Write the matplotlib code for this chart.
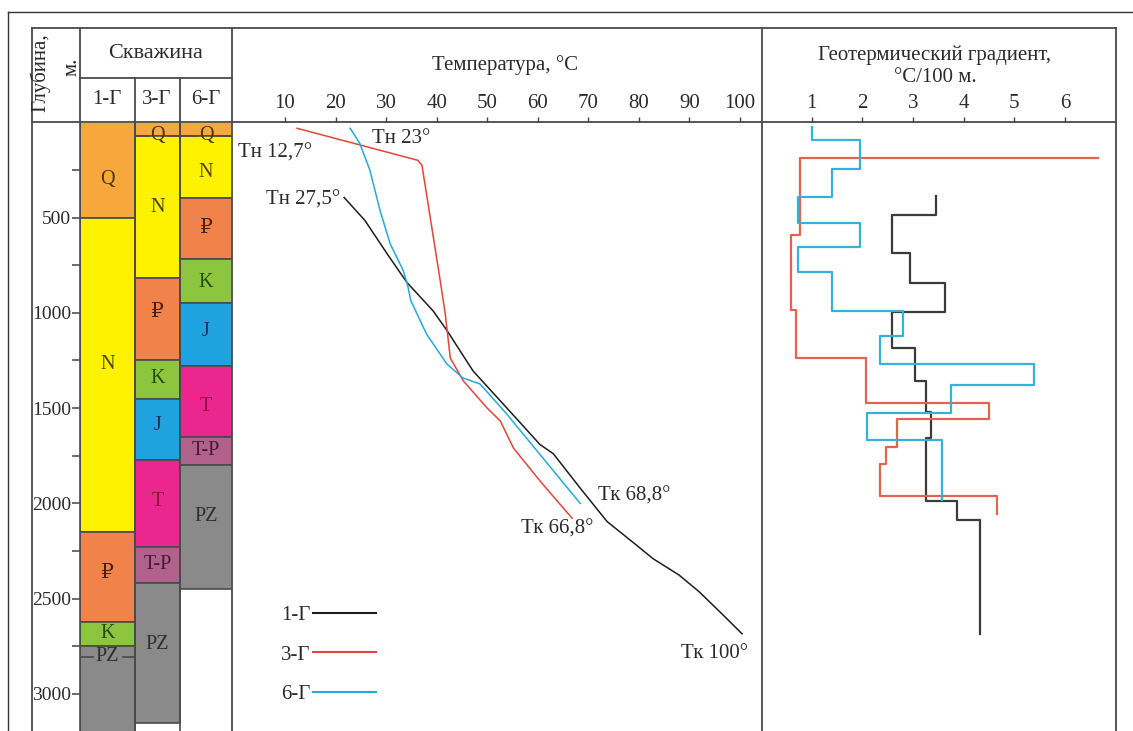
import numpy as np
import matplotlib
matplotlib.use('Agg')
import matplotlib.pyplot as plt

plt.rcParams['font.family'] = ['Liberation Serif', 'DejaVu Serif']

# temperature profiles: depth (m) / temperature (C)
depth_1g = [395, 515, 690, 840, 990, 1095, 1305, 1500, 1690, 1740, 1920, 2095, 2210, 2290, 2375, 2463, 2584, 2684]
temp_1g = [21.7, 25.8, 30.2, 34.1, 39.3, 42.1, 47.2, 53.9, 60.4, 63.1, 68.4, 73.7, 79.1, 82.8, 87.9, 91.9, 96.6, 100.4]
depth_3g = [32, 200, 226, 830, 1005, 1237, 1358, 1500, 1568, 1710, 1884, 2078]
temp_3g = [12.4, 36.3, 37.1, 40.7, 41.7, 42.7, 45.3, 50.0, 52.6, 55.2, 60.5, 66.8]
depth_6g = [32, 111, 252, 463, 637, 779, 860, 937, 1111, 1268, 1342, 1374, 1532, 1742, 2000]
temp_6g = [22.9, 24.8, 26.8, 28.8, 30.8, 33.4, 34.3, 34.9, 38.0, 42.0, 45.2, 48.6, 53.9, 60.4, 68.4]

# geothermal gradient, C/100 m, per depth interval (top of interval)
gtop_1g = [387, 487, 688, 845, 994, 1186, 1356, 1519, 1659, 1986, 2087]
grad_1g = [3.45, 2.58, 2.94, 3.63, 2.58, 3.04, 3.26, 3.35, 3.26, 3.86, 4.32]
gbot_1g = 2685
gtop_3g = [190, 190, 592, 985, 1237, 1472, 1557, 1706, 1793, 1960]
grad_3g = [6.66, 0.77, 0.59, 0.69, 2.07, 4.51, 2.68, 2.47, 2.34, 4.66]
gbot_3g = 2056
gtop_6g = [24, 93, 247, 394, 531, 656, 788, 991, 1122, 1269, 1379, 1527, 1667]
grad_6g = [1.0, 1.95, 1.40, 0.74, 1.95, 0.74, 1.40, 2.81, 2.35, 5.38, 3.76, 2.10, 3.57]
gbot_6g = 1982

# stratigraphy of the wells
units_1g = ['Q', 'N', '₽', 'K', 'PZ']
tops_1g = [0, 500, 2150, 2620, 2750]
base_1g = 3300
lab_1g = [300, 1270, 2370, 2680, 2805]
units_3g = ['Q', 'N', '₽', 'K', 'J', 'T', 'T-P', 'PZ']
tops_3g = [0, 70, 820, 1250, 1450, 1770, 2230, 2420]
base_3g = 3150
lab_3g = [70, 450, 1000, 1345, 1590, 1990, 2320, 2740]
units_6g = ['Q', 'N', '₽', 'K', 'J', 'T', 'T-P', 'PZ']
tops_6g = [0, 70, 400, 720, 950, 1280, 1650, 1800]
base_6g = 2450
lab_6g = [70, 265, 556, 843, 1100, 1490, 1722, 2070]

unit_colors = {'Q': '#F7A83C', 'N': '#FFF200', '₽': '#F0824A', 'K': '#8CC63F',
               'J': '#1FA3DF', 'T': '#EC268F', 'T-P': '#B0618C', 'PZ': '#8A8A8A'}
unit_text = {'Q': '#4a3214', 'N': '#4a4414', '₽': '#4a1f10', 'K': '#264a16',
             'J': '#1c3450', 'T': '#8e1537', 'T-P': '#4a1a30', 'PZ': '#2e2e2e'}

W, H = 1133, 731
Y0 = 122.2           # px of depth 0
PXM = 0.1906         # px per metre
DMAX = (H - Y0) / PXM
FS = 15


def rect(x0, y0, x1, y1):
    return [x0 / W, 1 - y1 / H, (x1 - x0) / W, (y1 - y0) / H]


def steps(tops, vals, bottom):
    edges = list(tops) + [bottom]
    y = np.column_stack([edges[:-1], edges[1:]]).ravel()
    x = np.repeat(vals, 2)
    return x, y


fig = plt.figure(figsize=(W / 100, H / 100), dpi=100)

# frame / header in pixel coordinates
bg = fig.add_axes([0, 0, 1, 1])
bg.set_xlim(0, W)
bg.set_ylim(H, 0)
bg.axis('off')
fc = '#4a4a4a'
bg.plot([8, W], [12, 12], color='#333333', lw=1)
bg.plot([8, 8], [12, H], color='#333333', lw=1)
bg.plot([32, 1116], [28, 28], color=fc, lw=1.3)
bg.plot([32, 1116], [Y0, Y0], color=fc, lw=1.3)
for xv in (32, 232, 762, 1116):
    bg.plot([xv, xv], [28, H], color=fc, lw=1.3)
bg.plot([80, 80], [28, Y0], color=fc, lw=1.3)
bg.plot([80, 232], [78, 78], color=fc, lw=1.3)
for xv in (135, 180):
    bg.plot([xv, xv], [78, Y0], color=fc, lw=1.3)

tc = '#2b2b2b'
bg.text(40, 73, 'Глубина,', rotation=90, ha='center', va='center', fontsize=FS, color=tc)
bg.text(72, 67, 'м.', rotation=90, ha='center', va='center', fontsize=FS, color=tc)
bg.text(156, 53, 'Скважина', ha='center', va='center', fontsize=FS + 1, color=tc)
for xc, name in zip((107, 157, 206), ('1-Г', '3-Г', '6-Г')):
    bg.text(xc, 100, name, ha='center', va='center', fontsize=FS, color=tc)
bg.text(505, 65, 'Температура, °C', ha='center', va='center', fontsize=FS, color=tc)
bg.text(935, 55, 'Геотермический градиент,', ha='center', va='center', fontsize=FS, color=tc)
bg.text(935, 78, '°C/100 м.', ha='center', va='center', fontsize=FS, color=tc)

# stratigraphic columns
ax_s = fig.add_axes(rect(80, Y0, 232, H))
ax_s.set_facecolor('none')
ax_s.set_xlim(0, 152)
ax_s.set_ylim(DMAX, 0)
cols = [(0, 55), (55, 45), (100, 52)]
wells = [(units_1g, tops_1g, base_1g, lab_1g, {4}),
         (units_3g, tops_3g, base_3g, lab_3g, {0}),
         (units_6g, tops_6g, base_6g, lab_6g, {0})]
for (x0, w), (units, tops, base, labs, marked) in zip(cols, wells):
    bots = tops[1:] + [base]
    for i, u in enumerate(units):
        ax_s.bar(x0, bots[i] - tops[i], bottom=tops[i], width=w, align='edge',
                 color=unit_colors[u], edgecolor='#4a4a4a', linewidth=1.2, zorder=1)
        ax_s.text(x0 + w / 2, labs[i], u, ha='center', va='center', fontsize=FS - 0.5,
                  color=unit_text[u], zorder=3)
        if i in marked:
            gap = 5 + 5 * len(u)
            ax_s.plot([x0, x0 + w / 2 - gap], [labs[i], labs[i]], color='#4a4a4a', lw=1.2, zorder=2)
            ax_s.plot([x0 + w / 2 + gap, x0 + w], [labs[i], labs[i]], color='#4a4a4a', lw=1.2, zorder=2)
for xv in (55, 100):
    ax_s.axvline(xv, color='#4a4a4a', lw=1.2, zorder=2)
ax_s.set_xticks([])
ax_s.set_yticks(np.arange(500, 3001, 500))
ax_s.set_yticks(np.arange(250, 3001, 500), minor=True)
ax_s.tick_params(axis='y', which='both', direction='out', length=6, width=1.1,
                 color='#444444', pad=0.5, labelsize=14, labelcolor=tc)
for s in ('top', 'right', 'bottom'):
    ax_s.spines[s].set_visible(False)
ax_s.spines['left'].set_color('#4a4a4a')
ax_s.spines['left'].set_linewidth(1.2)

# temperature panel
ax_t = fig.add_axes(rect(232, Y0, 762, H))
ax_t.set_facecolor('none')
ax_t.set_xlim((232 - 234.4) / 5.056, (762 - 234.4) / 5.056)
ax_t.set_ylim(DMAX, 0)
c1, c3, c6 = '#1e1e1e', '#E2453A', '#27A9D8'
ax_t.plot(temp_1g, depth_1g, color=c1, lw=1.1, label='1-Г')
ax_t.plot(temp_3g, depth_3g, color=c3, lw=1.1, label='3-Г')
ax_t.plot(temp_6g, depth_6g, color=c6, lw=1.1, label='6-Г')
ax_t.xaxis.tick_top()
ax_t.set_xticks(np.arange(10, 101, 10))
ax_t.tick_params(axis='x', direction='out', length=3.6, width=1, color='#444444',
                 pad=3, labelsize=FS, labelcolor=tc)
ax_t.set_yticks([])
for s in ax_t.spines.values():
    s.set_visible(False)

ann = dict(textcoords='offset points', fontsize=FS, color=tc, va='center')
ax_t.annotate('Тн 12,7°', (temp_3g[0], depth_3g[0]), xytext=(11, -18), ha='right', **ann)
ax_t.annotate('Тн 23°', (temp_6g[0], depth_6g[0]), xytext=(16, -7), ha='left', **ann)
ax_t.annotate('Тн 27,5°', (temp_1g[0], depth_1g[0]), xytext=(-3, -2), ha='right', **ann)
ax_t.annotate('Тк 68,8°', (temp_6g[-1], depth_6g[-1]), xytext=(13, 5), ha='left', **ann)
ax_t.annotate('Тк 66,8°', (temp_3g[-1], depth_3g[-1]), xytext=(15, -8), ha='right', **ann)
ax_t.annotate('Тк 100°', (temp_1g[-1], depth_1g[-1]), xytext=(4, -14), ha='right', **ann)

leg = ax_t.legend(loc='upper left', bbox_to_anchor=(0.092, 0.206), markerfirst=False,
                  frameon=False, handlelength=3.0, handletextpad=0.15, labelspacing=0.95,
                  fontsize=FS, borderpad=0, borderaxespad=0)
for t in leg.get_texts():
    t.set_color(tc)
for h in leg.get_lines():
    h.set_linewidth(1.5)

# geothermal gradient panel
ax_g = fig.add_axes(rect(762, Y0, 1116, H))
ax_g.set_facecolor('none')
ax_g.set_xlim((762 - 761) / 50.66, (1116 - 761) / 50.66)
ax_g.set_ylim(DMAX, 0)
for tops, vals, bot, col in ((gtop_1g, grad_1g, gbot_1g, '#3a3a3a'),
                             (gtop_3g, grad_3g, gbot_3g, '#E0654E'),
                             (gtop_6g, grad_6g, gbot_6g, '#36B2D8')):
    gx, gy = steps(tops, vals, bot)
    ax_g.plot(gx, gy, color=col, lw=1.6)
ax_g.xaxis.tick_top()
ax_g.set_xticks(np.arange(1, 7))
ax_g.tick_params(axis='x', direction='out', length=3.6, width=1, color='#444444',
                 pad=3, labelsize=FS, labelcolor=tc)
ax_g.set_yticks([])
for s in ax_g.spines.values():
    s.set_visible(False)

fig.savefig('out.png', dpi=100)
